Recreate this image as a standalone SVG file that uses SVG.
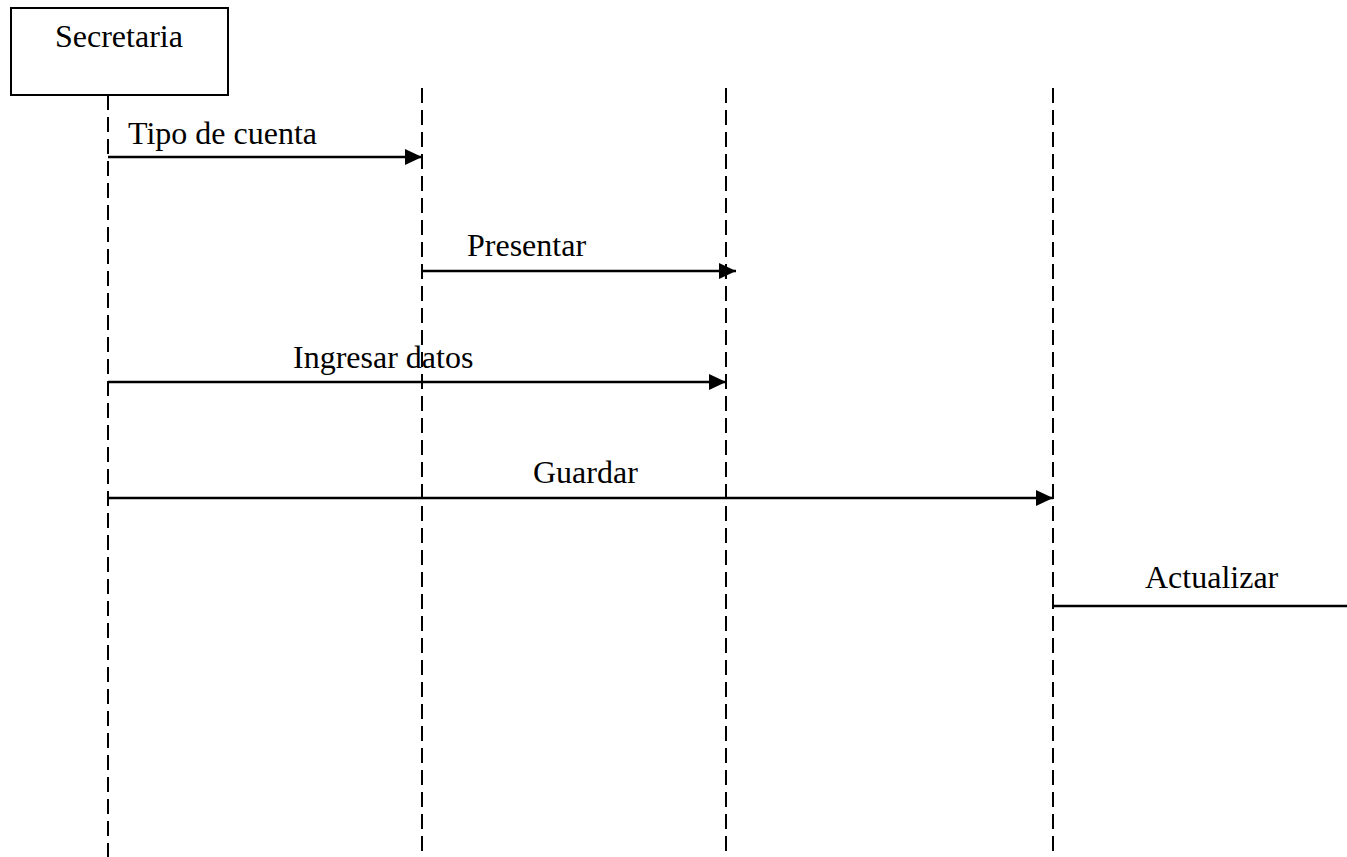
<svg xmlns="http://www.w3.org/2000/svg" width="1347" height="857" viewBox="0 0 1347 857">
  <style>
    .lbl { font-family: "Liberation Serif", "Times New Roman", serif; font-size: 32px; fill: #000; }
    .life { stroke: #000; stroke-width: 2; stroke-dasharray: 15 7; fill: none; }
    .msg { stroke: #000; stroke-width: 2.5; fill: none; }
    .box { fill: #fff; stroke: #000; stroke-width: 2; }
  </style>
  <defs>
    <marker id="arrow" markerUnits="userSpaceOnUse" markerWidth="17" markerHeight="16" refX="17" refY="8" orient="auto">
      <path d="M0,0 L17,8 L0,16 Z" fill="#000"/>
    </marker>
  </defs>
  <rect width="1347" height="857" fill="#fff"/>

  <!-- lifelines -->
  <g id="lifelines">
    <line class="life" x1="108" y1="95" x2="108" y2="857"/>
    <line class="life" x1="422" y1="88" x2="422" y2="851"/>
    <line class="life" x1="726" y1="88" x2="726" y2="851"/>
    <line class="life" x1="1053" y1="88" x2="1053" y2="851"/>
  </g>

  <!-- actor box -->
  <g id="secretaria">
    <rect class="box" x="11" y="8" width="217" height="87"/>
    <text class="lbl" x="55" y="47">Secretaria</text>
  </g>

  <!-- messages -->
  <g id="connectors">
    <line class="msg" x1="108" y1="157" x2="422" y2="157" marker-end="url(#arrow)"/>
    <line class="msg" x1="422" y1="271" x2="736" y2="271" marker-end="url(#arrow)"/>
    <line class="msg" x1="108" y1="382" x2="726" y2="382" marker-end="url(#arrow)"/>
    <line class="msg" x1="108" y1="498" x2="1053" y2="498" marker-end="url(#arrow)"/>
    <line class="msg" x1="1053" y1="606" x2="1347" y2="606"/>
  </g>

  <g id="labels">
    <text class="lbl" x="128" y="144">Tipo de cuenta</text>
    <text class="lbl" x="467" y="256">Presentar</text>
    <text class="lbl" x="293" y="368">Ingresar datos</text>
    <text class="lbl" x="533" y="483">Guardar</text>
    <text class="lbl" x="1145" y="588">Actualizar</text>
  </g>
</svg>
